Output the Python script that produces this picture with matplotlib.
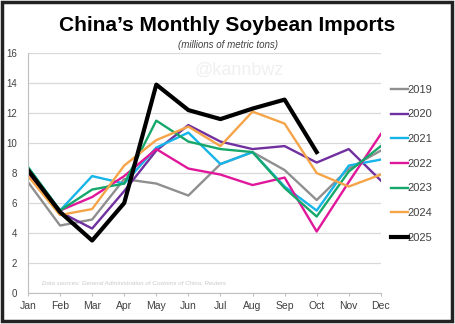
import matplotlib.pyplot as plt
import matplotlib.patches as mpatches
import numpy as np

plt.rcParams['font.family'] = ['Liberation Sans', 'DejaVu Sans']

months = ['Jan', 'Feb', 'Mar', 'Apr', 'May', 'Jun', 'Jul', 'Aug', 'Sep', 'Oct', 'Nov', 'Dec']

y2019 = [7.4, 4.5, 4.9, 7.6, 7.3, 6.5, 8.6, 9.4, 8.2, 6.2, 8.3, 9.5]
y2020 = [8.2, 5.4, 4.3, 6.8, 9.5, 11.2, 10.1, 9.6, 9.8, 8.7, 9.6, 7.5]
y2021 = [8.4, 5.5, 7.8, 7.3, 9.7, 10.7, 8.6, 9.4, 7.1, 5.5, 8.5, 8.9]
y2022 = [8.0, 5.5, 6.4, 7.8, 9.6, 8.3, 7.9, 7.2, 7.7, 4.1, 7.4, 10.6]
y2023 = [8.4, 5.5, 6.9, 7.3, 11.5, 10.1, 9.6, 9.4, 7.0, 5.1, 8.1, 9.8]
y2024 = [7.8, 5.2, 5.6, 8.5, 10.2, 11.1, 9.8, 12.1, 11.3, 8.0, 7.1, 7.9]
y2025 = [8.2, 5.4, 3.5, 6.0, 13.9, 12.2, 11.6, 12.3, 12.9, 9.4]

series = [
    ('2019', y2019, '#8f8f8f', 1.7),
    ('2020', y2020, '#7030a0', 1.7),
    ('2021', y2021, '#16b4e8', 1.7),
    ('2022', y2022, '#e0179a', 1.7),
    ('2023', y2023, '#16a86a', 1.7),
    ('2024', y2024, '#f5a448', 1.7),
    ('2025', y2025, '#000000', 3.0),
]

fig = plt.figure(figsize=(4.55, 3.24), dpi=100)
ax = fig.add_axes([0.0615, 0.0957, 0.7755, 0.7403])

for name, vals, col, lw in series:
    ax.plot(np.arange(len(vals)), vals, color=col, lw=lw, label=name)

ax.set_xlim(0, 11)
ax.set_ylim(0, 16)
ax.set_yticks(np.arange(0, 17, 2))
ax.set_xticks(np.arange(12))
ax.set_xticklabels(months)
ax.grid(axis='y', color='#d9d9d9', lw=0.9)
ax.set_axisbelow(True)
for s in ['top', 'right']:
    ax.spines[s].set_visible(False)
for s in ['left', 'bottom']:
    ax.spines[s].set_color('#bfbfbf')
ax.tick_params(axis='y', length=0, labelsize=7, colors='#404040', pad=8)
ax.tick_params(axis='x', length=2, color='#bfbfbf', labelsize=7.5, labelcolor='#404040', pad=4)

ax.text(0.04, 0.035, 'Data sources: General Administration of Customs of China; Reuters',
        transform=ax.transAxes, fontsize=4.4, style='italic', color='#c8c8c8')
ax.text(0.6, 0.93, '@kannbwz', transform=ax.transAxes, fontsize=13, color='#f0f0f0',
        ha='center', va='center', bbox=dict(facecolor='white', edgecolor='none', pad=2))

leg = ax.legend(loc='upper left', bbox_to_anchor=(1.0, 0.91), frameon=False, fontsize=8,
                handlelength=1.5, handletextpad=0.0, labelspacing=1.32, borderaxespad=0.5)
for t in leg.get_texts():
    t.set_color('#404040')

fig.text(0.5, 0.92, 'China\u2019s Monthly Soybean Imports', ha='center', va='center',
         fontsize=15, fontweight='bold')
fig.text(0.5, 0.86, '(millions of metric tons)', ha='center', va='center',
         fontsize=7, style='italic', color='#404040')

fig.patches.append(mpatches.Rectangle((0.004, 0.009), 0.989, 0.985, transform=fig.transFigure,
                                      fill=False, edgecolor='#222222', lw=2.5))

fig.savefig('out.png', dpi=100)
